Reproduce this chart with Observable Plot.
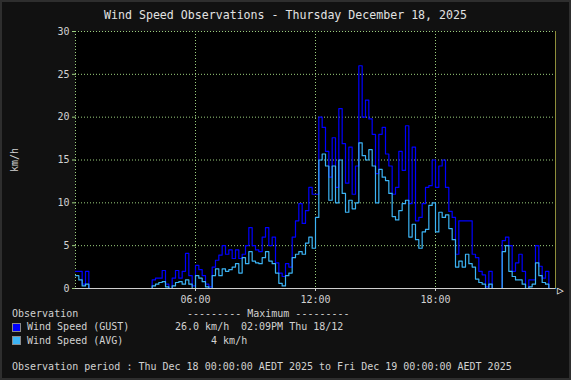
<!DOCTYPE html>
<html>
<head>
<meta charset="utf-8">
<script src="https://cdn.jsdelivr.net/npm/d3@7"></script>
<script src="https://cdn.jsdelivr.net/npm/@observablehq/plot@0.6"></script>
<style>
  html, body { margin: 0; padding: 0; background: #111111; }
  #wrap { position: relative; width: 571px; height: 380px; background: #111111; overflow: hidden; }
  #frame { position: absolute; left: 0; top: 0; width: 571px; height: 380px; box-sizing: border-box; border: 2px solid #2e2e2e; pointer-events: none; }
  .t { position: absolute; font-family: "DejaVu Sans Mono", monospace; font-size: 10px; line-height: 12px; color: #d2d2d2; white-space: pre; }
  .sw { position: absolute; width: 7px; height: 7px; border: 1px solid #8a8a8a; }
  #chart { position: absolute; left: 0; top: 0; }
</style>
</head>
<body>
<div id="wrap">
  <div id="chart"></div>
  <div class="t" style="left:0;width:571px;top:8px;text-align:center;font-size:11.6px;line-height:14px;color:#e2e2e2;">Wind Speed Observations - Thursday December 18, 2025</div>
  <div class="t" style="left:3px;top:154px;transform:rotate(-90deg);transform-origin:center;">km/h</div>
  <div class="t" style="left:12px;top:308px;">Observation</div>
  <div class="t" style="left:187px;top:308px;">--------- Maximum ---------</div>
  <div class="sw" style="left:12px;top:323px;background:#0000ff;"></div>
  <div class="t" style="left:27px;top:321px;">Wind Speed (GUST)</div>
  <div class="t" style="left:175px;top:321px;">26.0 km/h</div>
  <div class="t" style="left:241px;top:321px;">02:09PM Thu 18/12</div>
  <div class="sw" style="left:12px;top:336px;background:#3cb4f5;"></div>
  <div class="t" style="left:27px;top:335px;">Wind Speed (AVG)</div>
  <div class="t" style="left:193px;top:335px;">   4 km/h</div>
  <div class="t" style="left:12px;top:361px;">Observation period : Thu Dec 18 00:00:00 AEDT 2025 to Fri Dec 19 00:00:00 AEDT 2025</div>
  <div id="frame"></div>
</div>
<script>
// 10-minute observations, 00:00 to 23:50
const stepMinutes = 10;
const gust = [
  2, 2, 0.5, 2, 0, 0, 0, 0, 0, 0, 0, 0,
  0, 0, 0, 0, 0, 0, 0, 0, 0, 0, 0, 1,
  1.2, 1.2, 2.1, 0.5, 0, 1.2, 2.1, 1.2, 2, 4.1, 1.5, 0.3,
  2.7, 2.2, 1.5, 0.5, 0.2, 2.5, 3.3, 3.9, 5, 4, 4.5, 3.5,
  4.5, 3.5, 4, 5, 7.1, 5, 4.5, 4.3, 6, 7.1, 5, 6,
  3, 1.8, 1.4, 2.9, 2.5, 6, 7.9, 9.9, 7.6, 9.1, 11.8, 11,
  11, 20, 18.8, 16, 13, 17.6, 11.8, 21, 16.9, 12.3, 16.5, 11,
  14.3, 26, 20, 22, 19.8, 18, 13.4, 18, 18.8, 15.7, 14.3, 11,
  11.8, 16, 13.8, 19, 9.9, 16.5, 7.9, 8.3, 9.9, 11.8, 12, 15,
  11.8, 14.3, 15, 11.8, 9, 8.3, 4, 7.9, 7.9, 7.9, 7.9, 4,
  3.6, 2, 1.6, 0.2, 2, 0, 0, 0, 5.6, 6, 5, 2,
  3, 4, 2, 0, 1, 1, 5, 2.6, 1.2, 2, 0, 0
];
const avg = [
  1.5, 1, 0.3, 0.5, 0, 0, 0, 0, 0, 0, 0, 0,
  0, 0, 0, 0, 0, 0, 0, 0, 0, 0, 0, 0.3,
  0.5, 0.7, 0.8, 0.2, 0, 0.3, 0.7, 0.8, 0.5, 1, 0.5, 0,
  1.5, 1.2, 0.8, 0.2, 0, 1.5, 2.3, 1.5, 2.3, 2, 2.2, 2.5,
  2.9, 1.8, 3.6, 2.9, 4.3, 3.2, 3, 2.9, 3.6, 4.3, 3.2, 2.9,
  1.8, 0.6, 0.3, 1.5, 1.8, 3.6, 4, 4.3, 4, 5.3, 6, 4.7,
  8.3, 15, 15.7, 14.3, 10.3, 14.3, 10, 15, 11.1, 8.9, 10.3, 9.3,
  10, 17, 15.5, 15, 16.2, 14.3, 10, 13.9, 13, 12.6, 11.1, 8.4,
  8, 9.1, 9.9, 10.3, 6, 7.5, 5.7, 4.7, 6.6, 6.9, 9.7, 10,
  6.6, 8.9, 8.3, 8.6, 7, 5.7, 2.5, 3.2, 2.5, 4, 2.9, 2.5,
  1.1, 0.7, 0.5, 0, 0.5, 0, 0, 0, 4.3, 5, 2, 1.4,
  1, 1, 0.5, 0, 0.2, 0.5, 3, 1.5, 0.7, 0.5, 0, 0
];
const yTicks = [0, 5, 10, 15, 20, 25, 30];
const xTicks = [6, 12, 18];
const xTickLabels = ["06:00", "12:00", "18:00"];

const rows = gust.map((g, i) => ({h: i * stepMinutes / 60, gust: g, avg: avg[i]}));
// extend last step to the end of the day
rows.push({h: 24, gust: gust[gust.length - 1], avg: avg[avg.length - 1]});

const gridColor = "#9ccf7e";
const chart = Plot.plot({
  width: 571,
  height: 380,
  marginLeft: 75,
  marginRight: 16,
  marginTop: 31,
  marginBottom: 92,
  style: {background: "transparent", color: "#d2d2d2", fontFamily: "DejaVu Sans Mono, monospace", fontSize: "10px", overflow: "visible"},
  x: {domain: [0, 24]},
  y: {domain: [0, 30]},
  marks: [
    Plot.frame({fill: "#000000", stroke: null}),
    Plot.ruleY(yTicks.filter(d => d > 0), {stroke: gridColor, strokeDasharray: "1,2", strokeWidth: 1}),
    Plot.ruleX(xTicks, {stroke: gridColor, strokeDasharray: "1,2", strokeWidth: 1}),
    Plot.ruleX([0], {stroke: gridColor, strokeDasharray: "1,2", strokeWidth: 1}),
    Plot.ruleX([24], {stroke: "#8e8e3a", strokeWidth: 1}),
    Plot.line(rows, {x: "h", y: "gust", curve: "step-after", stroke: "#0000ff", strokeWidth: 1.2}),
    Plot.line(rows, {x: "h", y: "avg", curve: "step-after", stroke: "#3cb4f5", strokeWidth: 1.2}),
    Plot.ruleY([0], {stroke: "#cfcfcf", strokeWidth: 1}),
    Plot.axisX({ticks: xTicks, tickFormat: (d) => xTickLabels[xTicks.indexOf(d)], tickSize: 3, tickPadding: 4, stroke: "#cfcfcf", fill: "#d2d2d2", label: null}),
    Plot.axisY({ticks: yTicks, tickSize: 3, tickPadding: 3, stroke: gridColor, fill: "#d2d2d2", label: null}),
    Plot.text(["▷"], {frameAnchor: "bottom-right", dx: 8, dy: 5, fill: "#ffffff", fontSize: 11})
  ]
});
document.getElementById("chart").appendChild(chart);
</script>
</body>
</html>
